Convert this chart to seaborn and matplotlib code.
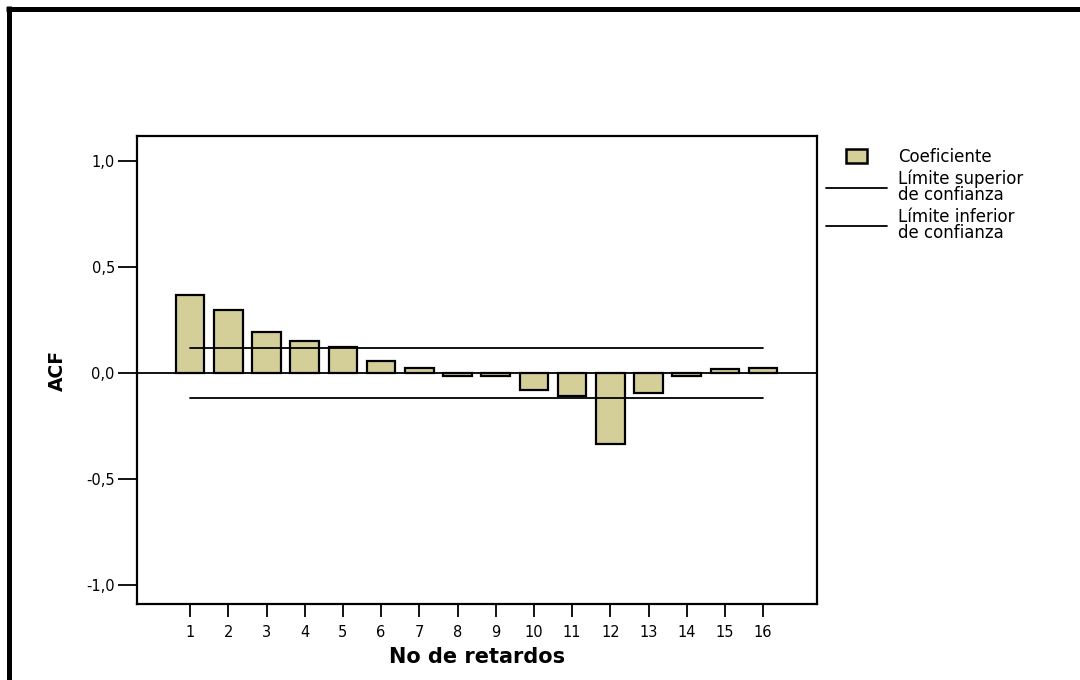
import matplotlib
matplotlib.use("Agg")
import matplotlib.pyplot as plt
import seaborn as sns
import pandas as pd
from matplotlib.lines import Line2D
from matplotlib.patches import Rectangle
from matplotlib.legend_handler import HandlerPatch

# ---- data ----
lags = [1, 2, 3, 4, 5, 6, 7, 8, 9, 10, 11, 12, 13, 14, 15, 16]
acf = [0.368, 0.296, 0.193, 0.150, 0.123, 0.055, 0.024, -0.012, -0.012,
       -0.078, -0.110, -0.336, -0.094, -0.012, 0.019, 0.024]
upper_limit = [0.118] * 16
lower_limit = [-0.118] * 16
y_ticks = [1.0, 0.5, 0.0, -0.5, -1.0]
y_tick_labels = ["1,0", "0,5", "0,0", "-0,5", "-1,0"]
legend_labels = ["Coeficiente", "Límite superior\nde confianza", "Límite inferior\nde confianza"]

BAR_COLOR = "#D4CF99"

sns.set_theme(style="white")
plt.rcParams["font.family"] = ["DejaVu Sans"]

fig = plt.figure(figsize=(10.8, 6.8), dpi=100)
ax = fig.add_axes([137 / 1080, 1 - 604 / 680, 680 / 1080, 468 / 680])

df = pd.DataFrame({"lag": lags, "acf": acf})
sns.barplot(data=df, x="lag", y="acf", native_scale=True, width=0.75,
            color=BAR_COLOR, saturation=1, edgecolor="black", linewidth=1.6, ax=ax)
for p in ax.patches:
    p.set_facecolor(BAR_COLOR)

sns.lineplot(x=lags, y=upper_limit, color="black", linewidth=1.3, ax=ax)
sns.lineplot(x=lags, y=lower_limit, color="black", linewidth=1.3, ax=ax)
ax.axhline(0, color="black", linewidth=1.3, zorder=0.5)

ax.set_xlim(-0.39, 17.41)
ax.set_ylim(-1.09, 1.118)
ax.set_xticks(lags)
ax.set_xticklabels([str(l) for l in lags], fontsize=10.5)
ax.set_yticks(y_ticks)
ax.set_yticklabels(y_tick_labels, fontsize=10.5)
ax.tick_params(axis="both", direction="out", color="black", width=1.3,
               bottom=True, left=True, labelcolor="black")
ax.tick_params(axis="y", length=14, pad=2)
ax.tick_params(axis="x", length=9, pad=6)

for s in ax.spines.values():
    s.set_visible(True)
    s.set_color("black")
    s.set_linewidth(1.6)

ax.set_xlabel("No de retardos", fontsize=15, fontweight="bold", labelpad=5, color="black")
ax.set_ylabel("ACF", fontsize=13.5, fontweight="bold", labelpad=14, color="black")


def make_rect(legend, orig_handle, xdescent, ydescent, width, height, fontsize):
    w = 15
    h = 10
    return Rectangle((xdescent + width / 2 - w / 2, ydescent + height / 2 - h / 2), w, h)


handles = [
    Rectangle((0, 0), 1, 1, facecolor=BAR_COLOR, edgecolor="black", linewidth=1.8),
    Line2D([], [], color="black", linewidth=1.3),
    Line2D([], [], color="black", linewidth=1.3),
]
leg = fig.legend(handles, legend_labels, loc="upper left",
                 bbox_to_anchor=(826 / 1080, 1 - 148 / 680),
                 frameon=False, fontsize=12, handlelength=3.65, handletextpad=0.66,
                 labelspacing=0.2, borderaxespad=0, borderpad=0,
                 handler_map={Rectangle: HandlerPatch(patch_func=make_rect)})
for t in leg.get_texts():
    t.set_linespacing(0.9)
    t.set_color("black")

# outer frame
fig.add_artist(Line2D([8.5 / 1080, 8.5 / 1080], [0, 1 - 6 / 680], color="black",
                      linewidth=3.6, solid_capstyle="butt", transform=fig.transFigure))
fig.add_artist(Line2D([6 / 1080, 1], [1 - 8.5 / 680, 1 - 8.5 / 680], color="black",
                      linewidth=3.6, solid_capstyle="butt", transform=fig.transFigure))

fig.savefig("out.png", dpi=100)
